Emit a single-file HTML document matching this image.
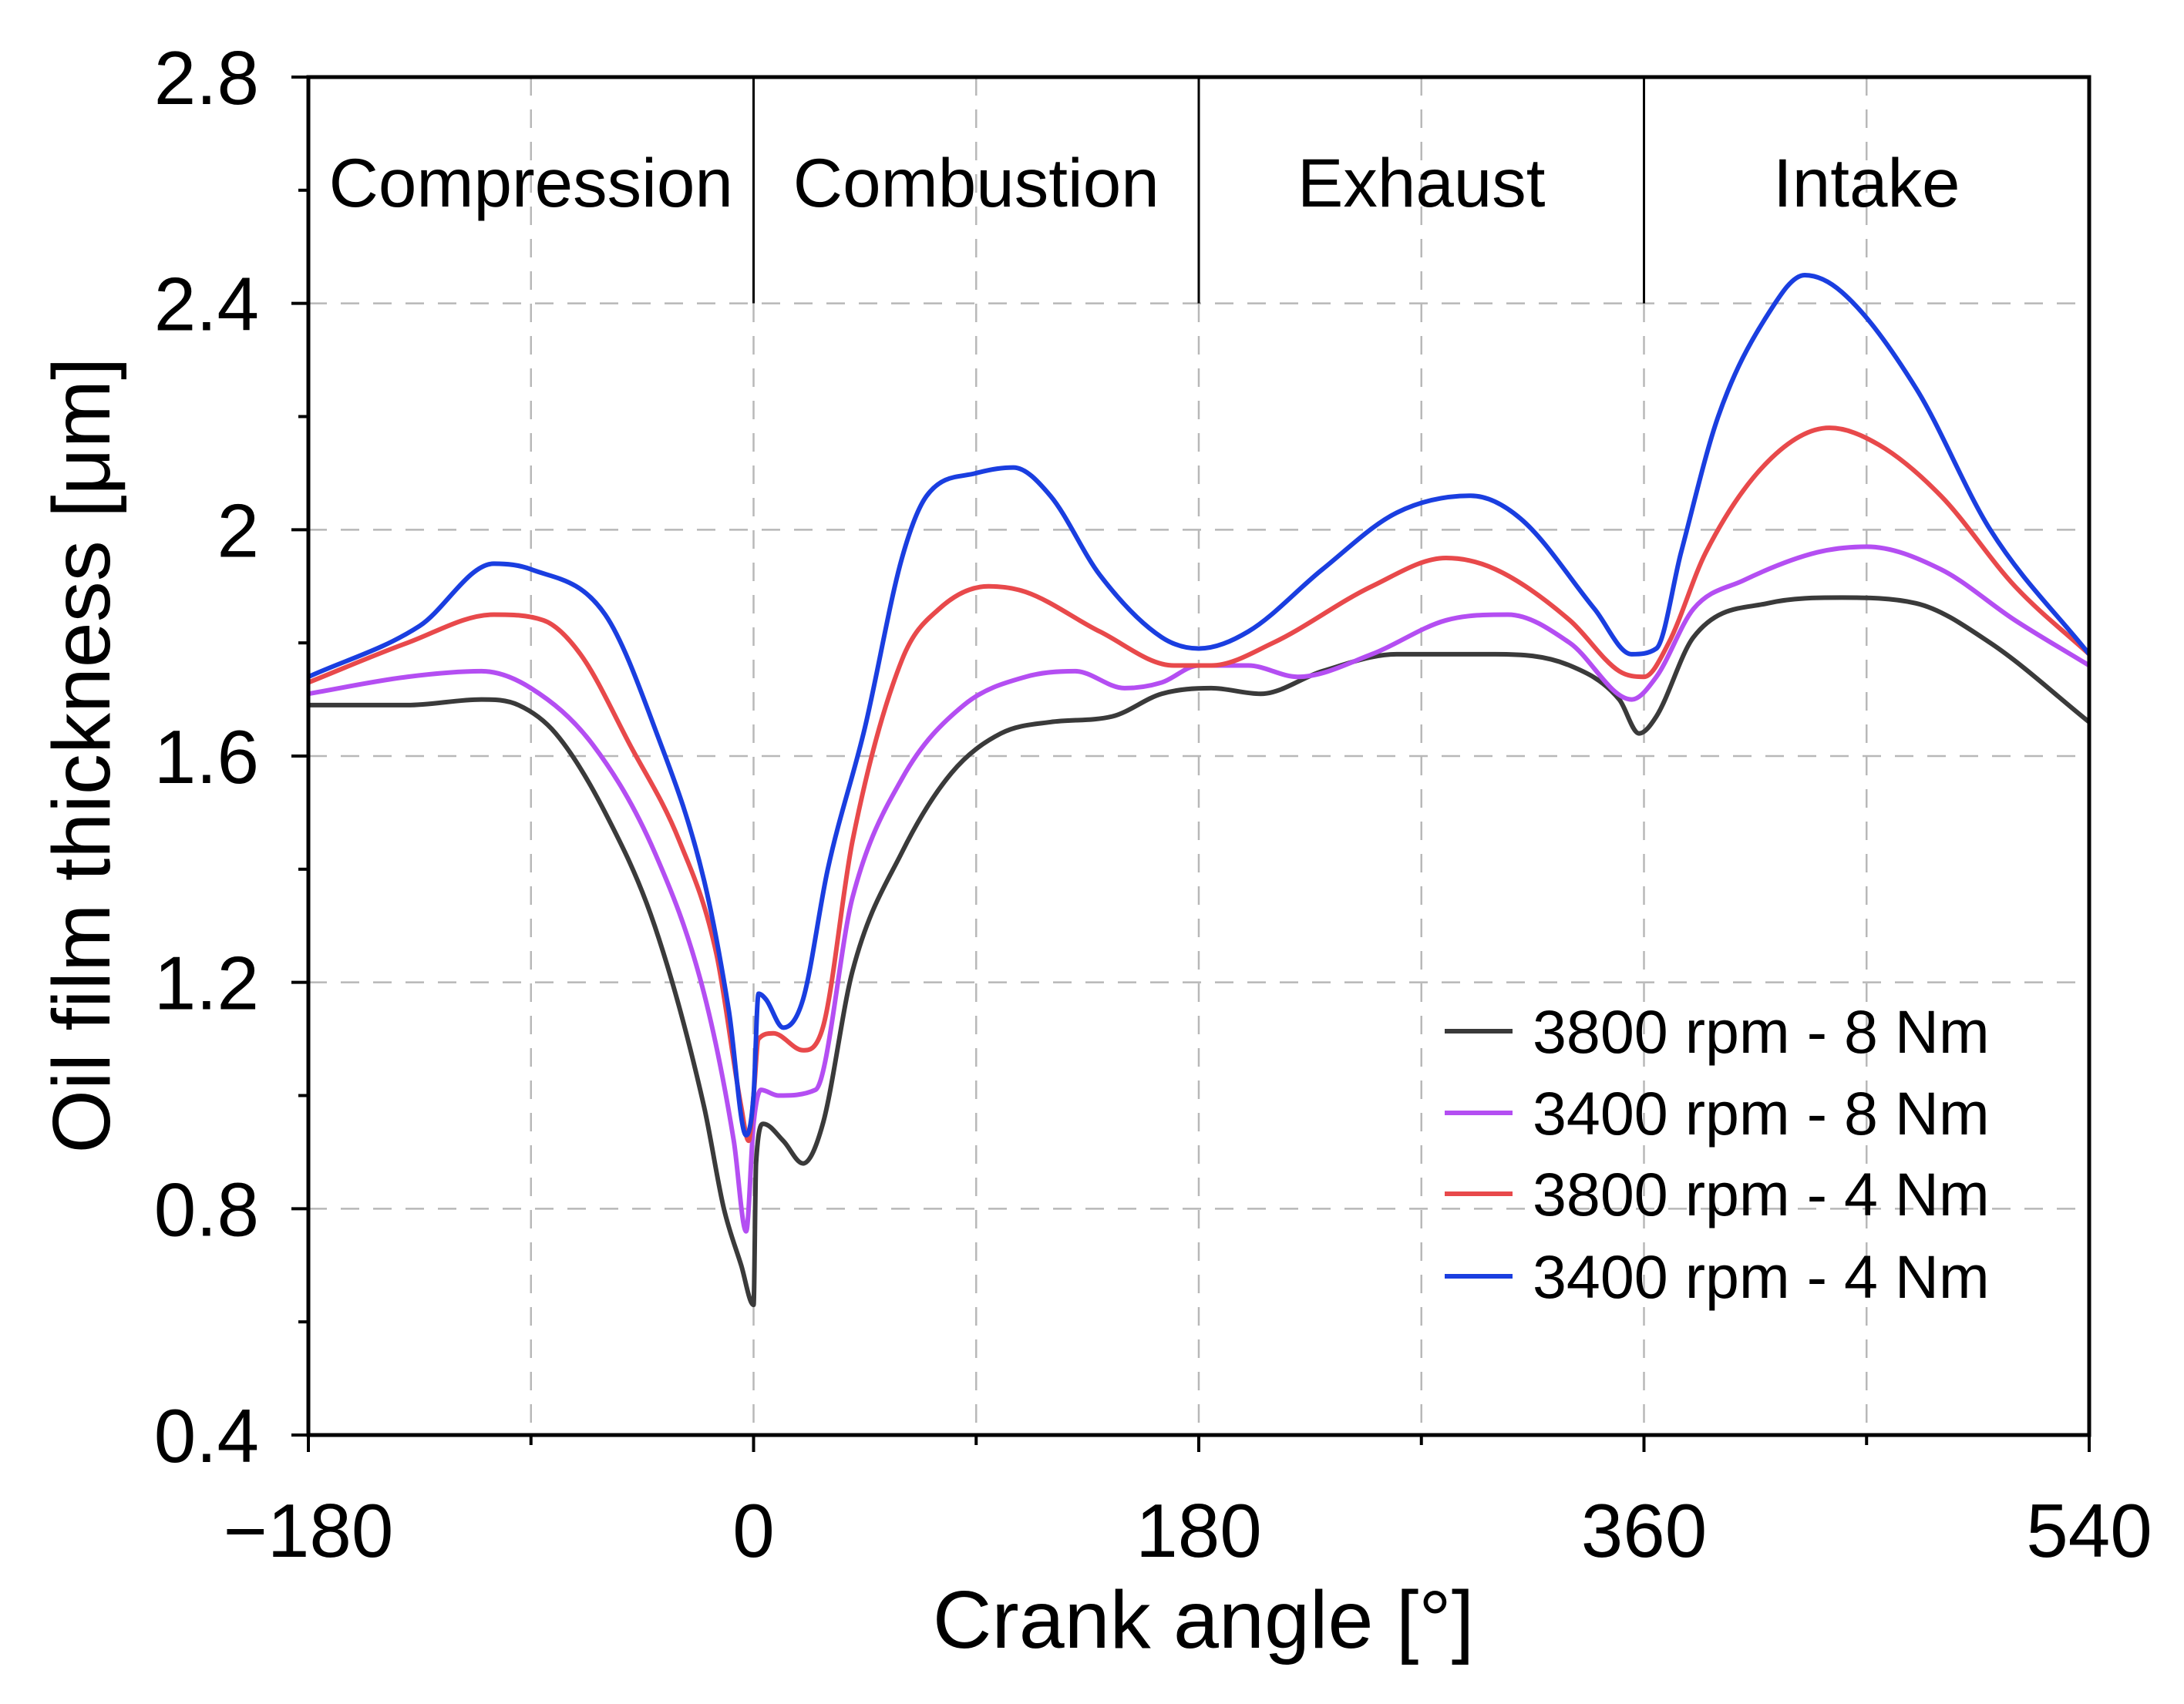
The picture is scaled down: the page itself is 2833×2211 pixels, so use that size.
<!DOCTYPE html>
<html><head><meta charset="utf-8">
<style>
html,body{margin:0;padding:0;background:#fff;}
svg{display:block;font-family:"Liberation Sans",Arial,sans-serif;}
</style></head>
<body>
<svg id="chart" width="2833" height="2211" viewBox="0 0 2833 2211" xmlns="http://www.w3.org/2000/svg">
<g id="grid"></g>
<g id="phases"></g>
<g id="series"></g>
<g id="axes"></g>
<g id="legend"></g>
<text x="1561" y="2138" font-size="106" text-anchor="middle">Crank angle [°]</text>
<text transform="translate(142,980) rotate(-90)" font-size="106" text-anchor="middle">Oil film thickness [μm]</text>
</svg>
<script>
const xTicks=[-180,0,180,360,540];
const xTickLabels=["\u2212180","0","180","360","540"];
const xMinor=[-90,90,270,450];
const yTicks=[0.4,0.8,1.2,1.6,2.0,2.4,2.8];
const yTickLabels=["0.4","0.8","1.2","1.6","2","2.4","2.8"];
const yMinor=[0.6,1.0,1.4,1.8,2.2,2.6];
const phaseNames=["Compression","Combustion","Exhaust","Intake"];
const phaseBounds=[-180,0,180,360,540];
const seriesNames=["3800 rpm - 8 Nm","3400 rpm - 8 Nm","3800 rpm - 4 Nm","3400 rpm - 4 Nm"];
const seriesColors=["#3a3a3a","#b44ef2","#e8494b","#1a3ee0"];
const blackX=[-180,-140,-110,-95,-80,-60,-40,-20,-12,-5,0,1,4,12,20,28,40,60,80,100,120,145,165,185,205,230,260,300,330,350,358,365,380,410,440,470,500,540];
const blackY=[1.69,1.69,1.70,1.69,1.64,1.50,1.30,0.98,0.80,0.70,0.63,0.88,0.95,0.92,0.88,0.95,1.22,1.43,1.57,1.64,1.66,1.67,1.71,1.72,1.71,1.75,1.78,1.78,1.76,1.70,1.64,1.67,1.81,1.87,1.88,1.87,1.80,1.66];
const purpleX=[-180,-140,-110,-90,-65,-40,-20,-8,-3,0,3,10,25,40,60,85,110,130,150,165,180,200,220,250,280,305,330,355,365,380,400,430,450,480,510,540];
const purpleY=[1.71,1.74,1.75,1.72,1.62,1.43,1.18,0.92,0.76,0.95,1.01,1.00,1.01,1.35,1.56,1.69,1.74,1.75,1.72,1.73,1.76,1.76,1.74,1.78,1.84,1.85,1.80,1.70,1.74,1.86,1.91,1.96,1.97,1.93,1.84,1.76];
const redX=[-180,-140,-105,-85,-70,-50,-30,-15,-5,-2,0,2,8,20,28,40,60,75,95,110,140,170,185,210,250,280,300,330,350,360,370,385,410,435,455,480,510,540];
const redY=[1.73,1.80,1.85,1.84,1.78,1.62,1.45,1.25,0.98,0.92,1.00,1.10,1.11,1.08,1.12,1.45,1.77,1.86,1.90,1.89,1.82,1.76,1.76,1.80,1.90,1.95,1.93,1.84,1.75,1.74,1.80,1.96,2.12,2.18,2.15,2.06,1.90,1.78];
const blueX=[-180,-135,-105,-90,-60,-40,-20,-10,-3,0,2,5,12,20,30,45,60,70,90,105,120,140,165,180,200,230,260,290,310,340,355,365,375,390,410,425,440,470,500,540];
const blueY=[1.74,1.83,1.94,1.93,1.85,1.65,1.38,1.15,0.93,1.00,1.18,1.17,1.12,1.17,1.40,1.65,1.95,2.06,2.10,2.11,2.06,1.92,1.81,1.79,1.82,1.93,2.03,2.06,2.02,1.86,1.78,1.79,1.96,2.20,2.38,2.45,2.42,2.25,2.00,1.78];

const L=400,R=2710,T=100,B=1862;
const sx=v=>L+(v+180)/720*(R-L);
const sy=v=>B-(v-0.4)/2.4*(B-T);
const NS="http://www.w3.org/2000/svg";
function mk(parent,tag,attrs){const e=document.createElementNS(NS,tag);for(const k in attrs)e.setAttribute(k,attrs[k]);parent.appendChild(e);return e;}

const grid=document.getElementById('grid');
[-90,0,90,180,270,360,450].forEach(v=>{
  const l=mk(grid,'line',{x1:sx(v),x2:sx(v),y1:T,y2:B,stroke:'#b8b8b8','stroke-width':2.5,'stroke-dasharray':'24 18'});
  
  
});
[0.8,1.2,1.6,2.0,2.4].forEach(v=>{
  const l=mk(grid,'line',{x1:L,x2:R,y1:sy(v),y2:sy(v),stroke:'#b8b8b8','stroke-width':2.5,'stroke-dasharray':'24 18'});
  
  
});

const ph=document.getElementById('phases');
for(let i=1;i<phaseBounds.length-1;i++){
  const l=mk(ph,'line',{x1:sx(phaseBounds[i]),x2:sx(phaseBounds[i]),y1:T,y2:sy(2.4),stroke:'#000','stroke-width':3});
  
  
}
phaseNames.forEach((n,i)=>{
  const t=mk(ph,'text',{x:(sx(phaseBounds[i])+sx(phaseBounds[i+1]))/2,y:268,'font-size':89,'text-anchor':'middle'});
  t.textContent=n;
  
  
});

function pathFor(xs,ys){
  const n=xs.length,px=xs.map(sx),py=ys.map(sy);
  const d=[],m=[];
  for(let i=0;i<n-1;i++)d.push((py[i+1]-py[i])/(px[i+1]-px[i]));
  for(let i=0;i<n;i++){
    if(i==0)m.push(d[0]);else if(i==n-1)m.push(d[n-2]);
    else m.push(d[i-1]*d[i]<=0?0:(d[i-1]+d[i])/2);
  }
  for(let i=0;i<n-1;i++){
    if(d[i]==0){m[i]=0;m[i+1]=0;continue;}
    const a=m[i]/d[i],b=m[i+1]/d[i],s=a*a+b*b;
    if(s>9){const t=3/Math.sqrt(s);m[i]=t*a*d[i];m[i+1]=t*b*d[i];}
  }
  let p='M'+px[0]+','+py[0];
  for(let i=0;i<n-1;i++){
    const h=(px[i+1]-px[i])/3;
    p+=' C'+(px[i]+h)+','+(py[i]+m[i]*h)+' '+(px[i+1]-h)+','+(py[i+1]-m[i+1]*h)+' '+px[i+1]+','+py[i+1];
  }
  return p;
}
const sg=document.getElementById('series');
const allX=[blackX,purpleX,redX,blueX],allY=[blackY,purpleY,redY,blueY];
const sNames=['line-3800rpm-8nm','line-3400rpm-8nm','line-3800rpm-4nm','line-3400rpm-4nm'];
for(let i=0;i<4;i++){
  const p=mk(sg,'path',{d:pathFor(allX[i],allY[i]),fill:'none',stroke:seriesColors[i],'stroke-width':6,'stroke-linejoin':'round'});
  
  
}

const ax=document.getElementById('axes');
const fr=mk(ax,'rect',{x:L,y:T,width:R-L,height:B-T,fill:'none',stroke:'#000','stroke-width':5});


xTicks.forEach((v,i)=>{
  const tk=mk(ax,'line',{x1:sx(v),x2:sx(v),y1:B,y2:B+22,stroke:'#000','stroke-width':4});
  
  
  const t=mk(ax,'text',{x:sx(v),y:2020,'font-size':98,'text-anchor':'middle'});
  t.textContent=xTickLabels[i];
  
  
});
xMinor.forEach(v=>{
  const tk=mk(ax,'line',{x1:sx(v),x2:sx(v),y1:B,y2:B+13,stroke:'#000','stroke-width':4});
  
  
});
yTicks.forEach((v,i)=>{
  const tk=mk(ax,'line',{x1:L-22,x2:L,y1:sy(v),y2:sy(v),stroke:'#000','stroke-width':4});
  
  
  const t=mk(ax,'text',{x:336,y:sy(v)+35,'font-size':98,'text-anchor':'end'});
  t.textContent=yTickLabels[i];
  
  
});
yMinor.forEach(v=>{
  const tk=mk(ax,'line',{x1:L-13,x2:L,y1:sy(v),y2:sy(v),stroke:'#000','stroke-width':4});
  
  
});

const lg=document.getElementById('legend');
const legY=[1338,1444,1549,1656];
seriesNames.forEach((n,i)=>{
  const g=mk(lg,'g',{});
  
  
  mk(g,'line',{x1:1874,x2:1962,y1:legY[i],y2:legY[i],stroke:seriesColors[i],'stroke-width':6});
  const t=mk(g,'text',{x:1988,y:legY[i]+28,'font-size':79});
  t.textContent=n;
});
</script>
</body></html>
